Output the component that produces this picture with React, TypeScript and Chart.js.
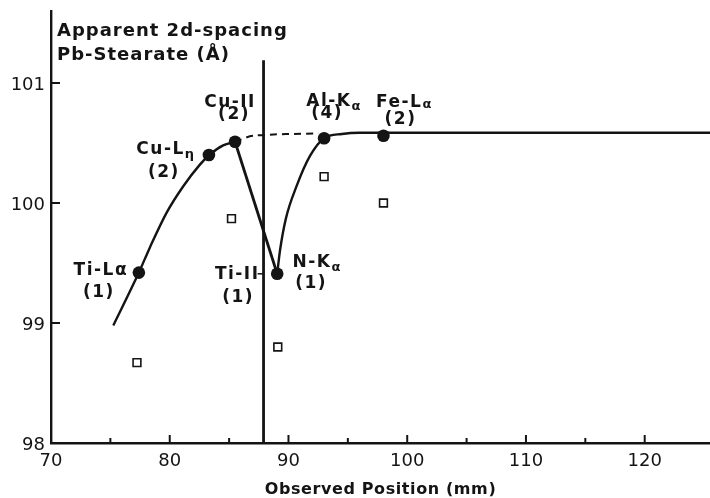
import React, { useEffect, useRef } from 'react';
import { Chart, registerables } from 'chart.js';

Chart.register(...registerables);

// ---- data ----
const xTickValues = [70, 80, 90, 100, 110, 120];
const xMinorTickValues = [75, 85, 95, 105, 115];
const yTickValues = [98, 99, 100, 101];

// filled circles (measured 2d-spacing)
const filledX = [77.4, 83.3, 85.5, 89.05, 93.0, 98.0];
const filledY = [99.42, 100.4, 100.51, 99.41, 100.54, 100.56];
// open squares
const openX = [77.24, 85.2, 89.1, 93.0, 98.0];
const openY = [98.67, 99.87, 98.8, 100.22, 100.0];

// hand-drawn curves
const leftCurveX = [75.25, 77.4, 78.33, 79.74, 81.14, 82.54, 83.33, 84.5, 85.5];
const leftCurveY = [98.98, 99.42, 99.63, 99.92, 100.14, 100.32, 100.4, 100.48, 100.51];
const dropLineX = [85.5, 89.05];
const dropLineY = [100.51, 99.41];
const rightCurveX = [89.05, 89.28, 89.78, 90.68, 91.8, 93.0, 94.5, 96.0, 125.5];
const rightCurveY = [99.41, 99.6, 99.87, 100.14, 100.39, 100.54, 100.575, 100.585, 100.585];
const dashedX = [85.5, 87.0, 92.5];
const dashedY = [100.51, 100.56, 100.58];
const edgeLineX = [87.9, 87.9];
const edgeLineY = [98.0, 101.19];
const tiTickX = [87.4, 87.9];
const tiTickY = [99.41, 99.41];

// labels for the filled points (index into filledX/filledY)
const labelPoint = [0, 1, 2, 3, 3, 4, 5];
const labelNames = ['Ti-L', 'Cu-L', 'Cu-II', 'Ti-II', 'N-K', 'Al-K', 'Fe-L'];
const labelSubs = ['α', 'η', '', '', 'α', 'α', 'α'];
const labelCounts = ['(1)', '(2)', '(2)', '(1)', '(1)', '(4)', '(2)'];

const yTitleLines = ['Apparent 2d-spacing', 'Pb-Stearate (Å)'];
const xTitle = 'Observed Position (mm)';

// ---- styles ----
const INK = '#141414';
const FONT = '"DejaVu Sans", "Liberation Sans", sans-serif';
// pixel offsets of label name / count centers relative to their point; sub style
const labelStyle = [
  { ndx: -38, ndy: -2, cdx: -40, cdy: 20, sub: 'inline' },
  { ndx: -43, ndy: -5, cdx: -45, cdy: 18, sub: 'low' },
  { ndx: -5, ndy: -39, cdx: -1, cdy: -27, sub: 'none' },
  { ndx: -40, ndy: 1, cdx: -39, cdy: 24, sub: 'none' },
  { ndx: 40, ndy: -11, cdx: 34, cdy: 10, sub: 'low' },
  { ndx: 10, ndy: -37, cdx: 3, cdy: -25, sub: 'low' },
  { ndx: 21, ndy: -33, cdx: 17, cdy: -16, sub: 'small' },
];

const pts = (xs: number[], ys: number[]) => xs.map((x, i) => ({ x, y: ys[i] }));

const annotPlugin = {
  id: 'annot',
  afterDatasetsDraw(chart: any) {
    const ctx = chart.ctx as CanvasRenderingContext2D;
    const xs = chart.scales.x;
    const ys = chart.scales.y;
    const { left, bottom, right } = chart.chartArea;
    ctx.save();
    ctx.strokeStyle = INK;
    ctx.fillStyle = INK;
    ctx.lineWidth = 2;
    ctx.lineCap = 'butt';
    const seg = (x1: number, y1: number, x2: number, y2: number) => {
      ctx.beginPath();
      ctx.moveTo(x1, y1);
      ctx.lineTo(x2, y2);
      ctx.stroke();
    };
    // inward ticks
    xTickValues.forEach((v) => {
      const p = xs.getPixelForValue(v);
      seg(p, bottom, p, bottom - 8);
    });
    xMinorTickValues.forEach((v) => {
      const p = xs.getPixelForValue(v);
      seg(p, bottom, p, bottom - 5);
    });
    yTickValues.forEach((v) => {
      const p = ys.getPixelForValue(v);
      seg(left, p, left + 9, p);
    });

    // tick labels
    ctx.font = `18px ${FONT}`;
    ctx.textBaseline = 'middle';
    ctx.textAlign = 'center';
    xTickValues.forEach((v) => {
      ctx.fillText(String(v), xs.getPixelForValue(v), bottom + 18);
    });
    ctx.textAlign = 'right';
    yTickValues.forEach((v) => {
      ctx.fillText(String(v), left - 6, ys.getPixelForValue(v) + 2);
    });

    // point labels
    (ctx as any).letterSpacing = '1.5px';
    ctx.textBaseline = 'middle';
    labelNames.forEach((name, i) => {
      const st = labelStyle[i];
      const pi = labelPoint[i];
      const px = xs.getPixelForValue(filledX[pi]);
      const py = ys.getPixelForValue(filledY[pi]);
      const mainFont = `bold 17px ${FONT}`;
      const subFont =
        st.sub === 'inline' ? `bold 17px ${FONT}` : `bold 13px ${FONT}`;
      ctx.font = mainFont;
      const mw = ctx.measureText(name).width;
      let sw = 0;
      if (labelSubs[i]) {
        ctx.font = subFont;
        sw = ctx.measureText(labelSubs[i]).width;
      }
      const cx = px + st.ndx;
      const cy = py + st.ndy;
      const x0 = cx - (mw + sw) / 2;
      ctx.textAlign = 'left';
      ctx.font = mainFont;
      ctx.fillText(name, x0, cy);
      if (labelSubs[i]) {
        ctx.font = subFont;
        const off = st.sub === 'low' ? 5 : st.sub === 'small' ? 2 : 0;
        ctx.fillText(labelSubs[i], x0 + mw, cy + off);
      }
      ctx.font = mainFont;
      ctx.textAlign = 'center';
      ctx.fillText(labelCounts[i], px + st.cdx, py + st.cdy);
    });

    // y title inside plot
    ctx.textAlign = 'left';
    ctx.textBaseline = 'alphabetic';
    ctx.font = `bold 18px ${FONT}`;
    (ctx as any).letterSpacing = '1px';
    ctx.fillText(yTitleLines[0], left + 6, 36);
    ctx.fillText(yTitleLines[1], left + 6, 60);

    // x title
    ctx.textAlign = 'center';
    ctx.font = `bold 16px ${FONT}`;
    (ctx as any).letterSpacing = '0.6px';
    ctx.fillText(xTitle, (left + right) / 2, 494);
    ctx.restore();
  },
};

export default function App() {
  const ref = useRef<HTMLCanvasElement | null>(null);
  useEffect(() => {
    if (!ref.current) return;
    const lineDs = (data: any[], extra: any = {}) => ({
      type: 'scatter',
      data,
      showLine: true,
      pointRadius: 0,
      pointHoverRadius: 0,
      borderColor: INK,
      borderWidth: 2.4,
      fill: false,
      order: 2,
      ...extra,
    });
    const chart = new Chart(ref.current, {
      type: 'scatter',
      data: {
        datasets: [
          {
            data: pts(filledX, filledY),
            pointRadius: 6.3,
            pointHoverRadius: 6.3,
            backgroundColor: INK,
            borderColor: INK,
            borderWidth: 0,
            order: 0,
          } as any,
          {
            data: pts(openX, openY),
            pointStyle: 'rect',
            pointRadius: 5.5,
            pointHoverRadius: 5.5,
            backgroundColor: '#ffffff',
            borderColor: INK,
            borderWidth: 1.6,
            order: 0,
          } as any,
          lineDs(pts(leftCurveX, leftCurveY), { cubicInterpolationMode: 'monotone' }),
          lineDs(pts(dropLineX, dropLineY), { borderWidth: 2.8 }),
          lineDs(pts(rightCurveX, rightCurveY), { cubicInterpolationMode: 'monotone' }),
          lineDs(pts(dashedX, dashedY), { borderDash: [7, 5], borderWidth: 2, tension: 0.3 }),
          lineDs(pts(edgeLineX, edgeLineY), { borderWidth: 2.8 }),
          lineDs(pts(tiTickX, tiTickY), { borderWidth: 1.5 }),
        ] as any,
      },
      options: {
        animation: false,
        responsive: false,
        events: [],
        layout: { autoPadding: false, padding: { top: 11, right: 0, left: 0, bottom: 0 } },
        plugins: {
          legend: { display: false },
          tooltip: { enabled: false },
          title: { display: false },
        },
        scales: {
          x: {
            type: 'linear',
            min: 70,
            max: 125.5,
            afterFit: (s: any) => {
              s.height = 55;
            },
            grid: { display: false, drawTicks: false },
            border: { display: true, color: INK, width: 2.4 },
            ticks: { display: false },
          },
          y: {
            type: 'linear',
            min: 98,
            max: 101.6,
            afterFit: (s: any) => {
              s.width = 51;
            },
            grid: { display: false, drawTicks: false },
            border: { display: true, color: INK, width: 2.4 },
            ticks: { display: false },
          },
        },
      } as any,
      plugins: [annotPlugin],
    });
    return () => chart.destroy();
  }, []);
  return (
    <div style={{ position: 'absolute', left: 0, top: 0, width: 710, height: 498, background: '#fff' }}>
      <canvas ref={ref} width={710} height={498} />
    </div>
  );
}
